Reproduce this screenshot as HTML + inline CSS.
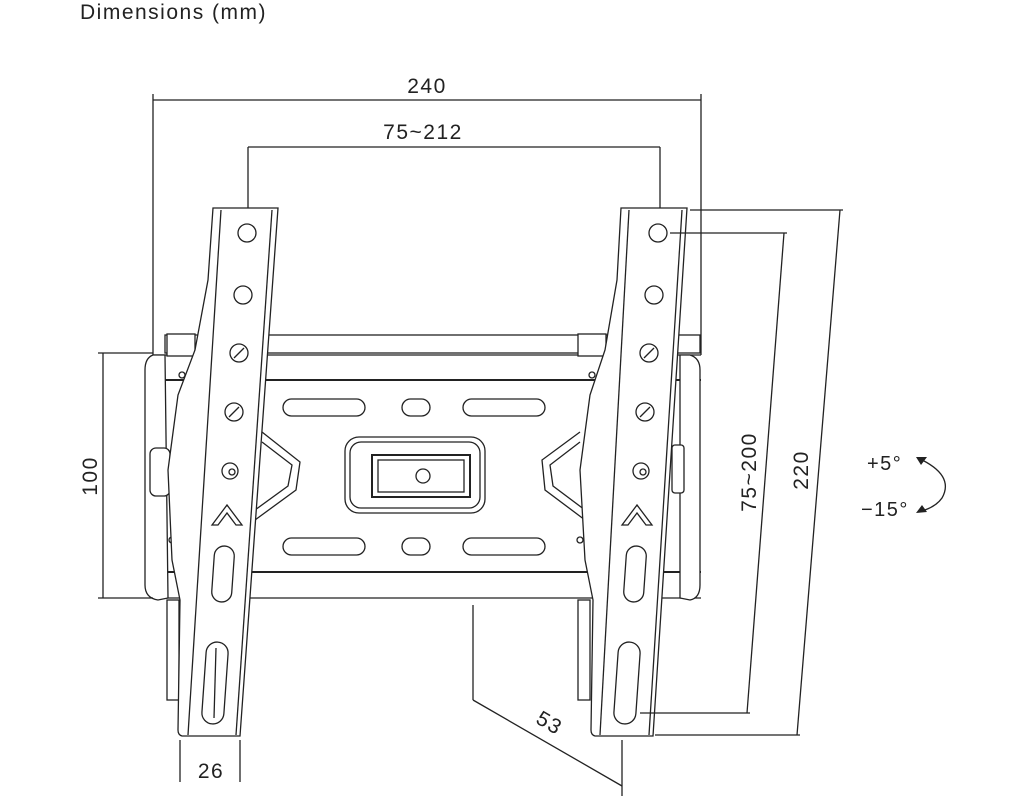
<!DOCTYPE html>
<html><head><meta charset="utf-8"><style>
html,body{margin:0;padding:0;background:#fff;width:1024px;height:800px;overflow:hidden}
svg{display:block}
text{font-family:"Liberation Sans",sans-serif;fill:#222;letter-spacing:1.5px}
</style></head><body>
<svg width="1024" height="800" viewBox="0 0 1024 800" fill="none" stroke="#222" stroke-width="1.3">
<text x="80" y="19" font-size="21" stroke="none" letter-spacing="3">Dimensions (mm)</text>

<!-- 240 -->
<line x1="153" y1="100" x2="701" y2="100"/>
<line x1="153" y1="94" x2="153" y2="355"/>
<line x1="701" y1="94" x2="701" y2="355"/>
<text x="427" y="93" font-size="21" text-anchor="middle" stroke="none">240</text>
<!-- 75~212 -->
<line x1="248" y1="147" x2="660" y2="147"/>
<line x1="248" y1="147" x2="248" y2="220"/>
<line x1="660" y1="147" x2="660" y2="220"/>
<text x="423" y="139" font-size="21" text-anchor="middle" stroke="none">75~212</text>

<!-- wall plate -->
<rect x="165" y="335" width="535" height="18" fill="#fff"/>
<line x1="153" y1="355" x2="701" y2="355"/>
<line x1="153" y1="380" x2="701" y2="380" stroke-width="2"/>
<line x1="153" y1="572" x2="701" y2="572" stroke-width="2"/>
<line x1="153" y1="598" x2="701" y2="598"/>
<rect x="283" y="399" width="82" height="17" rx="8.5"/>
<rect x="402" y="399" width="28" height="17" rx="8.5"/>
<rect x="463" y="399" width="82" height="17" rx="8.5"/>
<rect x="283" y="538" width="82" height="17" rx="8.5"/>
<rect x="402" y="538" width="28" height="17" rx="8.5"/>
<rect x="463" y="538" width="82" height="17" rx="8.5"/>
<rect x="345" y="437" width="140" height="76" rx="14"/>
<rect x="350" y="442" width="130" height="66" rx="11"/>
<rect x="372" y="455" width="98" height="42" stroke-width="2"/>
<rect x="378" y="460" width="86" height="32"/>
<circle cx="423" cy="476" r="7"/>
<path d="M262 432 L300 462 L296 490 L255 520 M262 442 L292 465 L288 486 L255 510"/>
<path d="M580 432 L542 460 L545 490 L585 520 M580 442 L550 465 L553 486 L585 510"/>

<!-- left side plate -->
<path d="M153 355 Q145 358 145 370 L145 585 Q145 598 158 600 L168 598 L165 355 Z" fill="#fff"/>
<rect x="167" y="334" width="28" height="22" fill="#fff"/>
<rect x="150" y="448" width="20" height="48" rx="6" fill="#fff"/>
<rect x="167" y="600" width="12" height="100"/>
<circle cx="182" cy="375" r="3"/><circle cx="172" cy="540" r="3"/>
<!-- right side plate -->
<path d="M690 355 Q700 358 700 370 L700 585 Q700 598 690 600 L680 598 L680 355 Z" fill="#fff"/>
<rect x="578" y="334" width="28" height="22" fill="#fff"/>
<rect x="672" y="445" width="12" height="48" rx="3" fill="#fff"/>
<rect x="578" y="600" width="12" height="100"/>
<circle cx="592" cy="375" r="3"/><circle cx="580" cy="540" r="3"/>

<!-- left bracket -->
<path d="M213 208 L278 208 L240 736 L182 736 Q178 735 178 730 L180 600 L172 560 L168 470 L178 395 L195 350 L208 280 Z" fill="#fff"/>
<line x1="221" y1="210" x2="188" y2="735"/>
<line x1="272" y1="210" x2="236" y2="735"/>
<circle cx="247" cy="233" r="9"/>
<circle cx="243" cy="295" r="9"/>
<circle cx="239" cy="353" r="9"/><line x1="234" y1="358" x2="244" y2="348"/>
<circle cx="234" cy="412" r="9"/><line x1="229" y1="417" x2="239" y2="407"/>
<circle cx="230" cy="471" r="8"/><circle cx="232" cy="472" r="3"/>
<path d="M212 525 L227 505 L242 525 L236 525 L227 513 L218 525 Z"/>
<rect x="213" y="546" width="20" height="56" rx="10" transform="rotate(4 223 574)"/>
<rect x="204" y="642" width="22" height="82" rx="11" transform="rotate(4 215 683)"/>
<line x1="216" y1="648" x2="214" y2="718"/>

<!-- right bracket -->
<path d="M621 208 L687 208 L653 736 L595 736 Q591 735 591 730 L593 600 L585 560 L580 470 L590 395 L605 350 L617 280 Z" fill="#fff"/>
<line x1="629" y1="210" x2="600" y2="735"/>
<line x1="682" y1="210" x2="649" y2="735"/>
<circle cx="658" cy="233" r="9"/>
<circle cx="654" cy="295" r="9"/>
<circle cx="649" cy="353" r="9"/><line x1="644" y1="358" x2="654" y2="348"/>
<circle cx="645" cy="412" r="9"/><line x1="640" y1="417" x2="650" y2="407"/>
<circle cx="641" cy="471" r="8"/><circle cx="643" cy="472" r="3"/>
<path d="M622 525 L637 505 L652 525 L646 525 L637 513 L628 525 Z"/>
<rect x="625" y="546" width="20" height="56" rx="10" transform="rotate(4 635 574)"/>
<rect x="616" y="642" width="22" height="82" rx="11" transform="rotate(4 627 683)"/>

<!-- 100 -->
<line x1="103" y1="353" x2="103" y2="598"/>
<line x1="98" y1="353" x2="153" y2="353"/>
<line x1="98" y1="598" x2="153" y2="598"/>
<text x="0" y="0" font-size="21" text-anchor="middle" stroke="none" transform="translate(97 476) rotate(-90)">100</text>
<!-- 26 -->
<line x1="180" y1="740" x2="180" y2="782"/>
<line x1="240" y1="740" x2="240" y2="782"/>
<text x="211" y="778" font-size="21" text-anchor="middle" stroke="none">26</text>
<!-- 53 -->
<line x1="473" y1="605" x2="473" y2="700"/>
<line x1="622" y1="740" x2="622" y2="796"/>
<line x1="473" y1="700" x2="622" y2="786"/>
<text x="0" y="0" font-size="21" text-anchor="middle" stroke="none" transform="translate(546 729) rotate(30)">53</text>
<!-- 220 -->
<line x1="690" y1="210" x2="843" y2="210"/>
<line x1="655" y1="735" x2="800" y2="735"/>
<line x1="840" y1="210" x2="797" y2="735"/>
<text x="0" y="0" font-size="21" text-anchor="middle" stroke="none" transform="translate(808 470) rotate(-90)">220</text>
<!-- 75~200 -->
<line x1="670" y1="233" x2="787" y2="233"/>
<line x1="640" y1="713" x2="750" y2="713"/>
<line x1="784" y1="233" x2="747" y2="713"/>
<text x="0" y="0" font-size="21" text-anchor="middle" stroke="none" transform="translate(756 472) rotate(-90)">75~200</text>
<!-- tilt -->
<text x="867" y="470" font-size="20" stroke="none">+5°</text>
<text x="861" y="516" font-size="20" stroke="none">−15°</text>
<path d="M918 458 Q955 475 942 498 Q935 508 918 512"/>
<path d="M916 457 L927 457 L921 465 Z" fill="#222" stroke="none"/>
<path d="M916 513 L927 512 L922 505 Z" fill="#222" stroke="none"/>
</svg>
</body></html>
